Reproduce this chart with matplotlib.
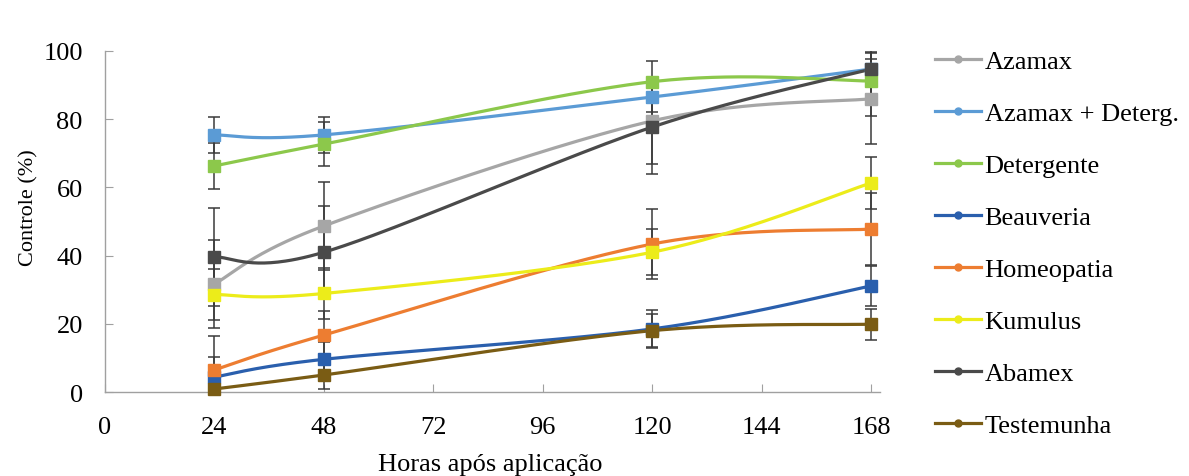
import numpy as np
import matplotlib
matplotlib.use("Agg")
import matplotlib.pyplot as plt
from matplotlib.lines import Line2D

hours = [24, 48, 120, 168]
series_names = ["Azamax", "Azamax + Deterg.", "Detergente", "Beauveria",
                "Homeopatia", "Kumulus", "Abamex", "Testemunha"]

azamax = [31.7, 48.7, 79.5, 86.0]
azamax_deterg = [75.4, 75.4, 86.5, 94.7]
detergente = [66.3, 72.7, 91.0, 91.2]
beauveria = [4.4, 9.6, 18.5, 31.1]
homeopatia = [6.5, 16.7, 43.4, 47.8]
kumulus = [28.6, 28.9, 41.0, 61.3]
abamex = [39.6, 41.0, 77.7, 94.7]
testemunha = [0.9, 5.0, 18.0, 19.9]

err_azamax = [13.0, 12.8, 12.6, 13.3]
err_azamax_deterg = [5.2, 5.2, 4.4, 5.0]
err_detergente = [6.8, 6.5, 6.2, 6.5]
err_beauveria = [6.0, 5.0, 5.5, 6.0]
err_homeopatia = [10.0, 7.0, 10.3, 10.5]
err_kumulus = [7.5, 7.5, 6.8, 7.6]
err_abamex = [14.4, 13.5, 13.8, 13.8]
err_testemunha = [2.0, 4.0, 4.8, 4.5]

colors = ["#a6a6a6", "#5b9bd5", "#8cc84b", "#2a5fad",
          "#ed7d31", "#ecec1a", "#4a4a4a", "#7a5c14"]

values = [azamax, azamax_deterg, detergente, beauveria,
          homeopatia, kumulus, abamex, testemunha]
errors = [err_azamax, err_azamax_deterg, err_detergente, err_beauveria,
          err_homeopatia, err_kumulus, err_abamex, err_testemunha]

x_ticks = [0, 24, 48, 72, 96, 120, 144, 168]
y_ticks = [0, 20, 40, 60, 80, 100]


def smooth(xs, ys, n=60):
    P = np.column_stack([xs, ys]).astype(float)
    out = []
    m = len(P)
    t = np.linspace(0, 1, n)[:, None]
    for i in range(m - 1):
        p0 = P[i - 1] if i > 0 else P[i]
        p1 = P[i]
        p2 = P[i + 1]
        p3 = P[i + 2] if i + 2 < m else P[i + 1]
        c1 = p1 + (p2 - p0) / 6.0
        c2 = p2 - (p3 - p1) / 6.0
        seg = ((1 - t) ** 3) * p1 + 3 * ((1 - t) ** 2) * t * c1 + \
            3 * (1 - t) * t ** 2 * c2 + t ** 3 * p2
        out.append(seg if i == 0 else seg[1:])
    s = np.vstack(out)
    return s[:, 0], s[:, 1]


plt.rcParams['font.family'] = ['Liberation Serif', 'DejaVu Serif']

fig = plt.figure(figsize=(11.89, 4.77), dpi=100)
ax = fig.add_axes([0.0883, 0.176, 0.652, 0.715])

for name, v, e, c in zip(series_names, values, errors, colors):
    ax.errorbar(hours, v, yerr=e, fmt='none', ecolor='#3a3a3a',
                elinewidth=1.1, capsize=4.5, capthick=1.1, zorder=2)
for name, v, e, c in zip(series_names, values, errors, colors):
    sx, sy = smooth(hours, v)
    ax.plot(sx, sy, color=c, lw=2.3, zorder=3, solid_capstyle='round')
    ax.plot(hours, v, ls='none', marker='s', ms=8.5, color=c, zorder=4,
            clip_on=False)

ax.set_xlim(0, 170)
ax.set_ylim(0, 100)
ax.set_xticks(x_ticks)
ax.set_yticks(y_ticks)
ax.tick_params(axis='both', direction='in', length=6, width=0.8,
               color='#a0a0a0', labelsize=19)
ax.tick_params(axis='y', pad=16)
ax.tick_params(axis='x', pad=17)
for s in ['top', 'right']:
    ax.spines[s].set_visible(False)
for s in ['left', 'bottom']:
    ax.spines[s].set_color('#a0a0a0')
    ax.spines[s].set_linewidth(1.0)

ax.set_xlabel("Horas após aplicação", fontsize=19)
ax.set_ylabel("Controle (%)", fontsize=16)
ax.xaxis.set_label_coords(0.497, -0.178)
ax.yaxis.set_label_coords(-0.086, 0.543)

handles = [Line2D([0], [0], color=c, lw=2.3, marker='o', ms=5)
           for c in colors]
fig.legend(handles, series_names, loc='upper left',
           bbox_to_anchor=(0.786, 0.894), frameon=False, fontsize=19,
           handlelength=1.75, handletextpad=0.15, labelspacing=1.08,
           borderpad=0, borderaxespad=0)

fig.savefig("out.png", dpi=100)
